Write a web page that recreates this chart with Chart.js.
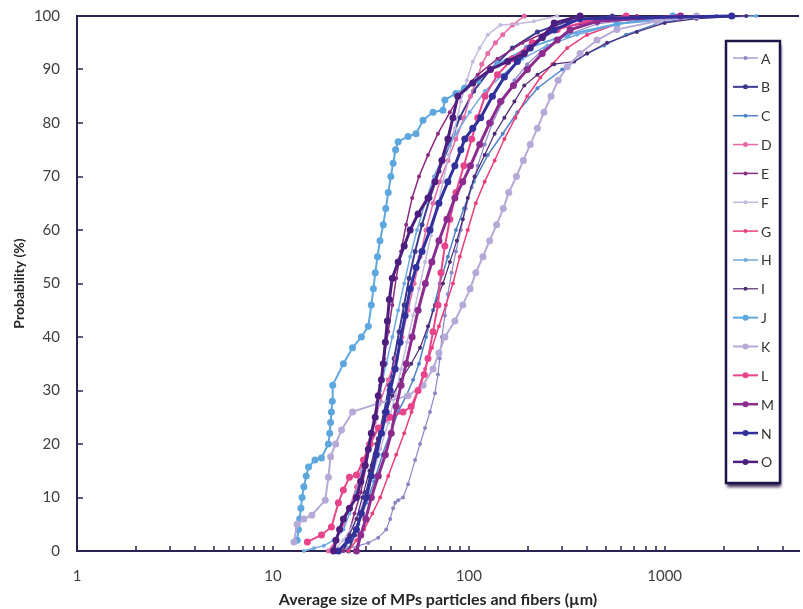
<!DOCTYPE html>
<html>
<head>
<meta charset="utf-8">
<title>Size distribution of MPs particles and fibers</title>
<script src="https://cdn.jsdelivr.net/npm/chart.js@4.4.1/dist/chart.umd.min.js"></script>
<style>
  body { margin: 0; background: #fff; }
  #wrap { width: 803px; height: 609px; }
</style>
</head>
<body>
<div id="wrap"><canvas id="sizeChart" width="803" height="609"></canvas></div>
<script>
// each series: [average size (um), cumulative probability (%)]
const seriesA = [[21.6,0],[24.3,0.5],[27.3,1],[30.7,1.5],[34.5,2.5],[37.9,4],[39.7,6],[41.1,8],[42.1,9],[43.6,9.5],[46.2,10],[49,12.5],[53.2,17],[56.4,20],[59.8,23],[63.4,26],[67.2,29.5],[69.6,33],[71.1,36],[72.9,40],[75.5,44],[78.2,48],[81.7,52],[86,56],[91.1,60],[96.5,64],[103.5,68],[111,72],[120.5,76],[132,80],[149,84],[171,88],[199,91],[245,94],[318,96.5],[452,98.5],[721,99.5],[1837,100]];
const seriesB = [[24.3,0],[26.1,3],[28.1,7],[30,11],[32.2,16],[34.5,21],[37,26],[39.3,31],[41.6,36],[44.1,41],[46.8,46],[49.6,51],[53.2,56],[57.7,61],[63.4,66],[70.4,71],[79.7,76],[90,81],[106,86],[129,90],[167,94],[224,97],[318,99],[540,100]];
const seriesC = [[22.9,0],[24.6,2],[27.3,5],[30,9],[32.9,13],[36.2,18],[39.7,22],[43.6,26],[47.9,29],[52,32],[55.7,35],[60.5,40],[65.7,45],[71.1,50],[78.2,55],[86,60],[94.4,64],[106,69],[125,74],[149,78],[177,82],[224,86.5],[300,90],[402,93],[491,94.5],[636,96.5],[911,98.5],[1453,100]];
const seriesD = [[19.2,0],[21,2],[22.9,5],[24.6,8],[26.7,12],[28.6,16],[30.7,20],[32.9,24],[35.3,28],[38.8,32],[42.6,36],[45.6,40],[49,45],[52.6,50],[56.4,55],[60.5,60],[65.7,65],[71.1,69],[78.2,73],[86,77],[94.4,81],[102,85],[109.6,88],[116.5,91],[125,93],[136.8,95],[149,96.5],[167,98.3],[192,100]];
const seriesE = [[22.9,0],[24.3,3],[26.1,7],[28.1,11],[30,16],[31.8,21],[33.7,26],[35.3,31],[36.9,36],[38.8,41],[40.7,46],[42.6,51],[45.1,56],[47.9,61],[51.4,66],[55.7,70],[61.9,74],[69.6,78],[80,82],[93.2,86],[111,89],[140,92],[188,95],[267,97.5],[452,99],[721,100]];
const seriesF = [[20.4,0],[22.9,2],[25.8,5],[29,9],[32.2,14],[35.3,19],[38.8,24],[42.1,29],[45.1,34],[48.4,39],[52,44],[55.7,49],[59.8,54],[64.1,59],[68.8,64],[73.8,69],[79.2,74],[84.9,79],[91.1,84],[97.7,88],[104.8,91.5],[113.7,94],[125,96.5],[145,98.3],[177,98.5],[215,99],[283,100]];
const seriesG = [[24.3,0],[26.7,2],[29.2,4],[32.2,7],[35.3,10],[38.8,14],[42.6,18],[46.8,22],[51,26],[55.1,30],[59.8,34],[64.9,38],[70.4,42],[76.4,46],[83,50],[90,55],[98.8,60],[108.5,65],[120.5,69],[135.5,73],[152,77],[173,81],[199,85],[232,88.5],[267,91],[318,94],[402,96.5],[571,98.5],[1151,100]];
const seriesH = [[14.4,0],[16.2,0.5],[18.2,1],[20.4,2],[22.9,4],[24.6,7],[26.7,11],[28.6,15],[30.7,20],[32.9,25],[35.3,30],[37.9,35],[40.7,40],[43.6,45],[46.8,50],[50.2,55],[54.4,60],[59.8,65],[66.4,70],[74.5,74],[86,78],[101,82],[121,86],[149,89],[188,92],[252,94.5],[357,96.5],[571,98.5],[1151,99.5],[2931,100]];
const seriesI = [[21.6,0],[23.2,1],[24.6,3],[26.7,6],[28.6,10],[31.1,15],[33.7,20],[37,25],[40.7,29],[45.2,32],[50.8,35],[56.4,38],[61.9,42],[67.2,46],[73.8,50],[80.1,54],[86.9,58],[93.2,62],[98.8,66],[107,70],[120.5,74],[135.5,78],[152,81],[171,84],[192,87],[224,89],[273,91],[345,91.5],[402,93],[508,95],[721,97],[1000,98.7],[1453,99.5],[2608,100]];
const seriesJ = [[13.3,2],[13.5,4],[13.7,6],[13.9,8],[14.1,10],[14.4,12],[14.8,14],[15.2,15.7],[16.4,17],[17.7,17.4],[19.2,20],[19.5,22],[19.7,24],[19.9,26],[20.1,28],[20.2,31],[22.9,35],[25.5,38],[28.3,40],[30.7,42],[31.8,46],[32.6,49],[33.3,52],[34.2,55],[35.2,58],[36.6,61],[37.7,64],[38.8,67],[40,70],[41.1,72.5],[42.3,75],[43.6,76.5],[49,77.5],[53.8,78],[58.4,80.5],[65.7,82],[73.8,82.4],[75.5,84.3],[85.9,85.5],[95.2,86.5],[111,88],[140,91],[199,94],[318,96.5],[571,98.5],[1100,100]];
const seriesK = [[12.8,1.7],[13.3,5],[14.4,6],[15.8,6.7],[18.5,9.5],[19.2,13.8],[19.7,17.6],[20.9,20],[22.4,22.6],[25.5,26],[34.5,27.6],[49,29],[58.4,31],[65.7,34],[70.4,37],[75.5,40],[84.9,43],[93.2,46],[101.6,49],[108.6,52],[118,55],[127.8,58],[138.7,61],[150,64],[160,67],[175,70],[190,73],[206,76],[224,79],[242,82],[263,85],[286,88],[318,90.5],[370,93],[452,95.5],[571,97.5],[911,99],[1453,100]];
const seriesL = [[15,1.7],[17.7,3],[19.9,4.5],[21.6,9],[22.9,11.4],[24.6,13.8],[26.7,14.2],[29,17],[31.4,20],[34.5,23],[39.7,25],[46.2,26],[50.8,27],[55.1,30],[59.2,33],[61.9,36],[65.7,41],[69.6,46],[72.1,52],[75.5,57],[80.1,62],[86,67],[94.4,72],[103.5,77],[111,81],[121,85],[140,89],[167,92],[211,95],[283,97.5],[402,99],[636,100]];
const seriesM = [[26.7,0],[28.1,3],[29.8,6],[31.8,10],[34.5,14],[37.5,18],[40.2,22],[42.6,27],[45.1,31],[47.9,35],[51.4,40],[55.1,45],[60,50],[64.8,54],[70.4,58],[77.3,62],[84.9,66],[93.2,69],[102,72],[113.7,76],[127.8,80],[145.3,84],[169,87],[199,90],[237,93],[283,95.5],[329,97.4],[452,99],[1205,100]];
const seriesN = [[21.6,0],[24.3,2],[26.7,4],[28.3,7],[30,10],[31.8,14],[33.7,18],[35.8,22],[37.9,26],[39.7,30],[42.1,34],[44.6,39],[47.3,44],[50.2,49],[53.8,53],[57.7,56],[63.4,60],[70.4,65],[78.2,69],[84.9,72],[91.1,75],[95.4,77],[104.8,79],[115,81],[132,85],[152,88.6],[177,91.5],[206,94],[237,96],[273,97.4],[370,99.5],[2200,100]];
const seriesO = [[20.4,0],[21,2],[21.9,4],[22.9,6],[24.6,8],[26.7,10],[28.1,13],[29.6,16],[30.7,19],[31.8,22],[33.3,25],[34.5,29],[35.8,32],[36.6,35],[37.5,39],[38.4,43],[39.3,47],[40.7,51],[43.6,54],[46.8,57],[50.2,60],[55.1,63],[61.9,66],[67.2,69],[72.9,73],[78.2,77],[83,81],[87.9,85],[104.8,87.5],[129,90],[158,91.5],[192,93],[237,96],[273,98.7],[370,100]];

const names = ['A', 'B', 'C', 'D', 'E', 'F', 'G', 'H', 'I', 'J', 'K', 'L', 'M', 'N', 'O'];
const allSeries = [seriesA, seriesB, seriesC, seriesD, seriesE, seriesF, seriesG, seriesH,
  seriesI, seriesJ, seriesK, seriesL, seriesM, seriesN, seriesO];
const yTicks = [0, 10, 20, 30, 40, 50, 60, 70, 80, 90, 100];

const colors = ['#8b86c6', '#3e3a8f', '#4f82c6', '#e56aa7', '#8a2a80', '#c4bade', '#e9407d', '#72aadf',
  '#4c2a74', '#5ea7de', '#b7a9d7', '#e8448c', '#8c2c8e', '#32319c', '#4d1e7f'];
const radii = [2, 2.5, 2, 2.5, 2, 2, 2, 2, 2, 3.5, 3.5, 3.5, 3.5, 3.5, 3.5];
const widths = [1.2, 2, 1.5, 1.5, 1.5, 1.5, 1.5, 1.5, 1.2, 2, 2, 2, 3, 3, 3];

const axisColor = '#2b2352';
const font = 'Lato';

function isDecade(v) {
  const l = Math.log10(v);
  return Math.abs(l - Math.round(l)) < 1e-9;
}

// tick marks point into the plot, like the original
const innerTicks = {
  id: 'innerTicks',
  beforeDatasetsDraw(chart) {
    const { ctx, scales: { x, y } } = chart;
    ctx.save();
    ctx.strokeStyle = axisColor;
    ctx.lineWidth = 1.5;
    ctx.beginPath();
    x.ticks.forEach(t => {
      const m = t.value / Math.pow(10, Math.floor(Math.log10(t.value) + 1e-9));
      if (Math.abs(m - Math.round(m)) > 1e-6) return;
      const px = Math.round(x.getPixelForValue(t.value));
      ctx.moveTo(px, y.bottom);
      ctx.lineTo(px, y.bottom - 5);
    });
    yTicks.forEach(v => {
      const py = Math.round(y.getPixelForValue(v));
      ctx.moveTo(x.left, py);
      ctx.lineTo(x.left + 6, py);
    });
    ctx.stroke();
    ctx.restore();
  }
};

// boxed legend sitting inside the plot area
const boxLegend = {
  id: 'boxLegend',
  afterDraw(chart) {
    const ctx = chart.ctx;
    const left = 726, top = 41, w = 54, h = 442, step = 28.85;
    ctx.save();
    ctx.shadowColor = 'rgba(35, 10, 60, 0.85)';
    ctx.shadowBlur = 3;
    ctx.shadowOffsetX = 1;
    ctx.shadowOffsetY = 4;
    ctx.fillStyle = '#fff';
    ctx.fillRect(left, top, w, h);
    ctx.restore();

    ctx.save();
    ctx.strokeStyle = '#1e1648';
    ctx.lineWidth = 2.5;
    ctx.strokeRect(left, top, w, h);
    chart.data.datasets.forEach((ds, i) => {
      const cy = top + 17 + i * step;
      ctx.strokeStyle = ds.borderColor;
      ctx.lineWidth = Math.min(ds.borderWidth, 2.5);
      ctx.beginPath();
      ctx.moveTo(left + 7, cy);
      ctx.lineTo(left + 32, cy);
      ctx.stroke();
      ctx.fillStyle = ds.borderColor;
      ctx.beginPath();
      ctx.arc(left + 19.5, cy, Math.min(ds.pointRadius, 3), 0, Math.PI * 2);
      ctx.fill();
      ctx.fillStyle = '#333';
      ctx.font = '14px ' + font;
      ctx.textBaseline = 'middle';
      ctx.fillText(ds.label, left + 35, cy + 1);
    });
    ctx.restore();
  }
};

const datasets = allSeries.map((s, i) => ({
  label: names[i],
  data: s.map(p => ({ x: p[0], y: p[1] })),
  borderColor: colors[i],
  backgroundColor: colors[i],
  pointBackgroundColor: colors[i],
  pointBorderWidth: 0,
  pointRadius: radii[i],
  borderWidth: widths[i],
  tension: 0,
  clip: false,
  order: allSeries.length - i
}));

new Chart(document.getElementById('sizeChart'), {
  type: 'line',
  data: { datasets },
  options: {
    responsive: false,
    animation: false,
    devicePixelRatio: 1,
    layout: { padding: { top: 16, right: 0, left: 0, bottom: 0 } },
    plugins: {
      legend: { display: false },
      tooltip: { enabled: false }
    },
    scales: {
      x: {
        type: 'logarithmic',
        min: 1,
        max: 4850,
        grid: { display: false, drawTicks: false },
        border: { color: axisColor, width: 2 },
        ticks: {
          autoSkip: false,
          maxRotation: 0,
          padding: 16,
          color: '#404040',
          font: { family: font, size: 15 },
          callback: v => isDecade(v) ? String(Math.round(v)) : ''
        },
        title: {
          display: true,
          text: 'Average size of MPs particles and fibers (µm)',
          color: '#262626',
          font: { family: font, size: 16, weight: 'bold' },
          padding: { top: 0, bottom: 0 }
        },
        afterFit: s => {
          s.height = 58;
          s.paddingLeft = 0;
          s.paddingRight = 0;
        }
      },
      y: {
        min: 0,
        max: 100,
        grid: {
          drawTicks: false,
          lineWidth: 2,
          color: c => (c.tick && c.tick.value === 100) ? axisColor : 'rgba(0,0,0,0)'
        },
        border: { color: axisColor, width: 2 },
        ticks: {
          stepSize: 10,
          padding: 17,
          color: '#404040',
          font: { family: font, size: 15 }
        },
        title: {
          display: true,
          text: 'Probability (%)',
          color: '#262626',
          font: { family: font, size: 14, weight: 'bold' },
          padding: { top: 11, bottom: 0 }
        },
        afterFit: s => {
          s.width = 77;
          s.paddingTop = 0;
          s.paddingBottom = 0;
        }
      }
    }
  },
  plugins: [innerTicks, boxLegend]
});
</script>
</body>
</html>
